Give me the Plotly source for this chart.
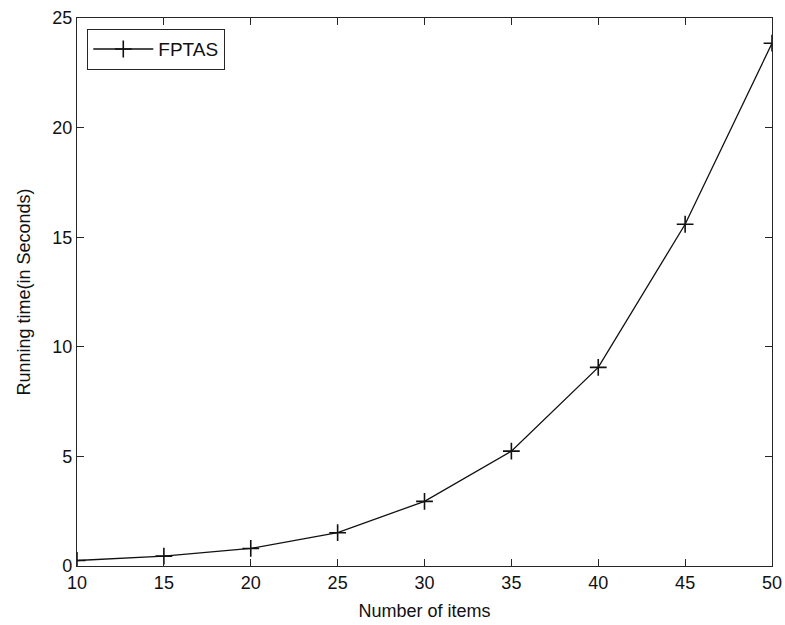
import plotly.graph_objects as go

items = [10, 15, 20, 25, 30, 35, 40, 45, 50]
running_time = [0.25, 0.45, 0.8, 1.52, 2.95, 5.24, 9.06, 15.59, 23.85]
series_name = "FPTAS"
x_ticks = [10, 15, 20, 25, 30, 35, 40, 45, 50]
y_ticks = [0, 5, 10, 15, 20, 25]

FONT = "Liberation Sans, Arial, sans-serif"
AX = "#262626"

fig = go.Figure()
fig.add_trace(go.Scatter(
    x=items, y=running_time, mode="lines+markers", name=series_name,
    line=dict(color="#111111", width=1.3),
    marker=dict(symbol="cross-thin", size=12, color="#111111",
                line=dict(color="#111111", width=1.6)),
))

axis_common = dict(
    showline=True, linecolor=AX, linewidth=1.2, mirror="ticks",
    ticks="inside", ticklen=7, tickcolor=AX, tickwidth=1.2,
    showgrid=False, zeroline=False, automargin=False,
    tickfont=dict(family=FONT, size=18, color="#111111"),
)

fig.update_layout(
    width=785, height=625,
    margin=dict(l=77, r=13, t=18, b=59),
    paper_bgcolor="white", plot_bgcolor="white",
    showlegend=True,
    legend=dict(x=0.0145, y=0.98, xanchor="left", yanchor="top",
                bordercolor=AX, borderwidth=1.2, bgcolor="white",
                font=dict(family=FONT, size=19, color="#111111"),
                itemwidth=60, entrywidth=150, entrywidthmode="pixels"),
    xaxis=dict(range=[10, 50], tickvals=x_ticks,
               title=dict(text="Number of items", standoff=12,
                          font=dict(family=FONT, size=18, color="#111111")),
               **axis_common),
    yaxis=dict(range=[0, 25], tickvals=y_ticks,
               title=dict(text="Running time(in Seconds)", standoff=16,
                          font=dict(family=FONT, size=18, color="#111111")),
               **axis_common),
)

fig.write_html("out.html")
